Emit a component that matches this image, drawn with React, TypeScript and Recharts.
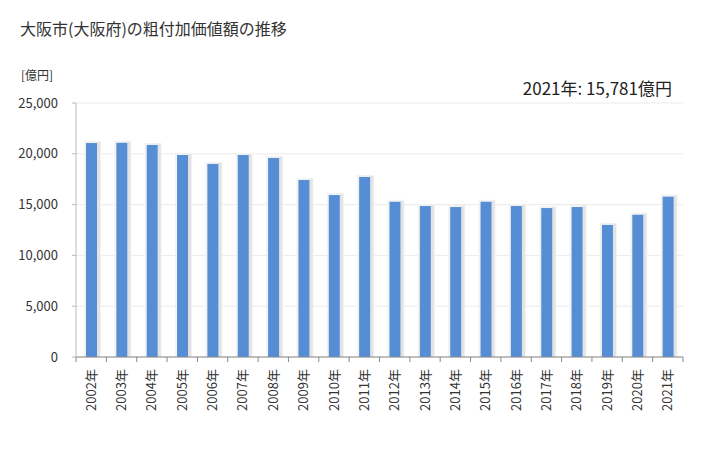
import * as React from 'react';
import { BarChart, Bar, XAxis, YAxis, CartesianGrid } from 'recharts';

// 年度
const years = [
  '2002年', '2003年', '2004年', '2005年', '2006年', '2007年', '2008年', '2009年', '2010年', '2011年',
  '2012年', '2013年', '2014年', '2015年', '2016年', '2017年', '2018年', '2019年', '2020年', '2021年',
];

// 粗付加価値額 [億円]
const values = [
  21060, 21080, 20870, 19880, 19000, 19880, 19590, 17420, 15940, 17720,
  15280, 14860, 14760, 15280, 14860, 14660, 14760, 13000, 14000, 15781,
];

const yTicks = [0, 5000, 10000, 15000, 20000, 25000];

const chartData = years.map((year, i) => ({ year, value: values[i] }));

const FONT = '"Noto Sans CJK JP", "Noto Sans", sans-serif';
const PLOT_LEFT = 76;
const PLOT_RIGHT = 683;
const BAND = (PLOT_RIGHT - PLOT_LEFT) / years.length;

// faint drop shadow like the original
const ShadowBar = (props: any) => {
  const { x, y, width, height } = props;
  if (!height || height <= 0) return null;
  return (
    <g>
      <rect x={x - 2} y={y - 2} width={width + 6} height={height + 2} fill="#f2f2f2" />
      <rect x={x + width} y={y - 1} width={3} height={height + 1} fill="#e3e3e3" />
      <rect x={x} y={y} width={width} height={height} fill="#558ed5" />
    </g>
  );
};

const YearTick = (props: any) => {
  const { x, y, payload, index } = props;
  const left = x - BAND / 2;
  const ty = y + 4;
  return (
    <g>
      <line x1={left} y1={y - 8} x2={left} y2={y - 3} stroke="#888" />
      {index === years.length - 1 && (
        <line x1={x + BAND / 2} y1={y - 8} x2={x + BAND / 2} y2={y - 3} stroke="#888" />
      )}
      <text
        x={x}
        y={ty}
        transform={`rotate(-90, ${x}, ${ty})`}
        textAnchor="end"
        dy="0.35em"
        fontSize={13}
        fontFamily={FONT}
        fill="#333"
      >
        {payload.value}
      </text>
    </g>
  );
};

const App: React.FC = () => {
  const last = values[values.length - 1];
  return (
    <div style={{ position: 'absolute', left: 0, top: 0, width: 728, height: 450, background: '#fff', fontFamily: FONT }}>
      <div style={{ position: 'absolute', left: 20, top: 16, fontSize: 16, color: '#333' }}>
        大阪市(大阪府)の粗付加価値額の推移
      </div>
      <div style={{ position: 'absolute', left: 21, top: 66, fontSize: 12, color: '#333' }}>[億円]</div>
      <div style={{ position: 'absolute', right: 56, top: 75, fontSize: 17, color: '#222' }}>
        {`${years[years.length - 1]}: ${last.toLocaleString('en-US')}億円`}
      </div>
      <BarChart
        width={728}
        height={450}
        data={chartData}
        margin={{ top: 103, right: 728 - PLOT_RIGHT, left: 0, bottom: 0 }}
        barCategoryGap={0}
        barSize={11}
      >
        <CartesianGrid vertical={false} stroke="#ebebeb" />
        <XAxis
          dataKey="year"
          height={93}
          interval={0}
          tickLine={false}
          axisLine={{ stroke: '#888' }}
          tick={<YearTick />}
          tickMargin={0}
          tickSize={8}
        />
        <YAxis
          width={PLOT_LEFT}
          domain={[0, 25000]}
          ticks={yTicks}
          interval={0}
          tickFormatter={(v: number) => v.toLocaleString('en-US')}
          tick={{ fontSize: 13, fill: '#333', fontFamily: FONT }}
          tickSize={4}
          tickMargin={14}
          tickLine={{ stroke: '#bbb' }}
          axisLine={{ stroke: '#bbb' }}
        />
        <Bar dataKey="value" shape={<ShadowBar />} isAnimationActive={false} />
      </BarChart>
    </div>
  );
};

export default App;
